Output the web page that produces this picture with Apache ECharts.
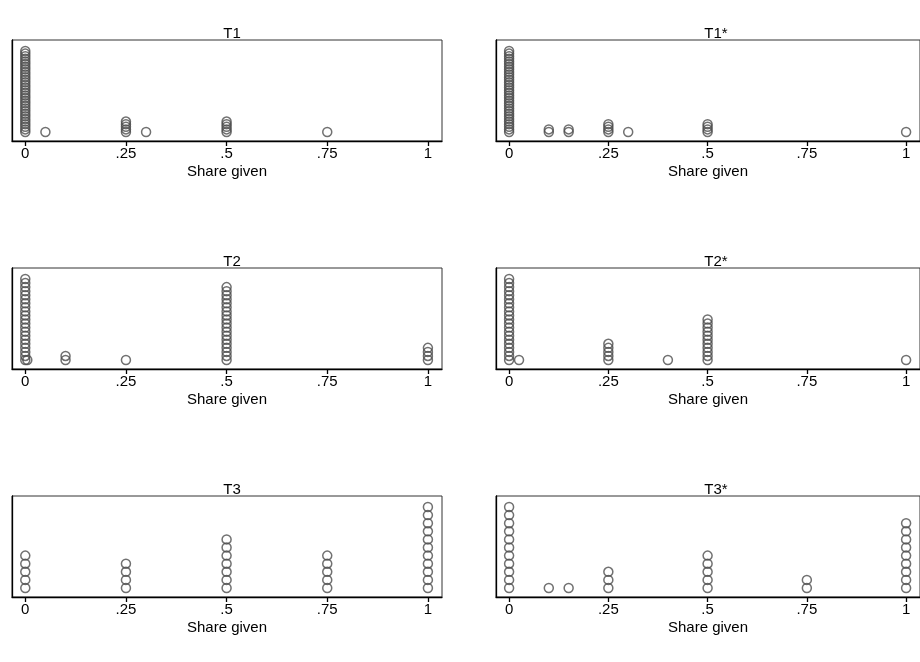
<!DOCTYPE html>
<html>
<head>
<meta charset="utf-8">
<script src="https://cdn.jsdelivr.net/npm/echarts@6/dist/echarts.min.js"></script>
<style>html,body{margin:0;padding:0;background:#fff}#c{width:920px;height:662px}</style>
</head>
<body>
<div id="c"></div>
<script>
// Panel titles
const panelTitles = ["T1", "T1*", "T2", "T2*", "T3", "T3*"];
// Distinct share values per panel and how many subjects gave each
const t1Values  = [0, 0.05, 0.25, 0.3, 0.5, 0.75];
const t1Counts  = [32, 1, 5, 1, 5, 1];
const t1sValues = [0, 0.1, 0.15, 0.25, 0.3, 0.5, 1];
const t1sCounts = [32, 2, 2, 4, 1, 4, 1];
const t2Values  = [0, 0.005, 0.1, 0.25, 0.5, 1];
const t2Counts  = [21, 1, 2, 1, 19, 4];
const t2sValues = [0, 0.025, 0.25, 0.4, 0.5, 1];
const t2sCounts = [21, 1, 5, 1, 11, 1];
const t3Values  = [0, 0.25, 0.5, 0.75, 1];
const t3Counts  = [5, 4, 7, 5, 11];
const t3sValues = [0, 0.1, 0.15, 0.25, 0.5, 0.75, 1];
const t3sCounts = [11, 1, 1, 3, 5, 2, 9];
// Axis ticks
const tickValues = [0, 0.25, 0.5, 0.75, 1];
const tickLabels = ["0", ".25", ".5", ".75", "1"];
const xTitle = "Share given";

const panels = [
  [t1Values, t1Counts], [t1sValues, t1sCounts],
  [t2Values, t2Counts], [t2sValues, t2sCounts],
  [t3Values, t3Counts], [t3sValues, t3sCounts]
];

const FONT = "'Liberation Sans', Arial, Helvetica, sans-serif";
const rowTops = [40, 268, 496];
const colLefts = [12, 496];
const boxW = 430, boxH = 101;
const padBottom = 9, padTop = 11;

const grids = [], xAxes = [], yAxes = [], series = [], titles = [];
panels.forEach((p, i) => {
  const row = Math.floor(i / 2), col = i % 2;
  const rowMax = Math.max(Math.max(...panels[row*2][1]), Math.max(...panels[row*2+1][1]));
  const n = rowMax - 1;
  const span = boxH - padBottom - padTop;
  grids.push({left: colLefts[col], top: rowTops[row], width: boxW, height: boxH,
    show: true, borderColor: '#333', borderWidth: 1, backgroundColor: '#fff', containLabel: false});
  xAxes.push({
    type: 'value', gridIndex: i, min: -0.033, max: 1.035,
    axisLine: {show: true, onZero: false, lineStyle: {color: '#000', width: 1.3}},
    axisTick: {show: true, length: 5, customValues: tickValues, lineStyle: {color: '#000', width: 1.3}},
    axisLabel: {show: true, customValues: tickValues, margin: 5, color: '#000', fontSize: 15, fontFamily: FONT,
      formatter: v => { const k = tickValues.findIndex(t => Math.abs(t - v) < 1e-9); return k >= 0 ? tickLabels[k] : ''; }},
    splitLine: {show: false},
    name: xTitle, nameLocation: 'middle', nameGap: 23,
    nameTextStyle: {color: '#000', fontSize: 15, fontFamily: FONT}
  });
  yAxes.push({
    type: 'value', gridIndex: i,
    min: -padBottom / span * n, max: n + padTop / span * n,
    axisLine: {show: true, onZero: false, lineStyle: {color: '#000', width: 1.3}},
    axisTick: {show: false}, axisLabel: {show: false}, splitLine: {show: false}
  });
  const pts = [];
  p[0].forEach((v, j) => { for (let k = 0; k < p[1][j]; k++) pts.push([v, k]); });
  series.push({
    type: 'scatter', xAxisIndex: i, yAxisIndex: i, data: pts,
    symbol: 'circle', symbolSize: 9, silent: true,
    itemStyle: {color: 'rgba(0,0,0,0)', borderColor: '#4d4d4d', borderWidth: 1.5}
  });
  titles.push({text: panelTitles[i], left: colLefts[col] + boxW / 2, top: rowTops[row] - 19,
    textAlign: 'center', textStyle: {color: '#000', fontSize: 15, fontWeight: 'normal', fontFamily: FONT}});
});

const chart = echarts.init(document.getElementById('c'), null, {renderer: 'canvas'});
chart.setOption({
  animation: false, backgroundColor: '#fff',
  title: titles, grid: grids, xAxis: xAxes, yAxis: yAxes, series: series
});
</script>
</body>
</html>
